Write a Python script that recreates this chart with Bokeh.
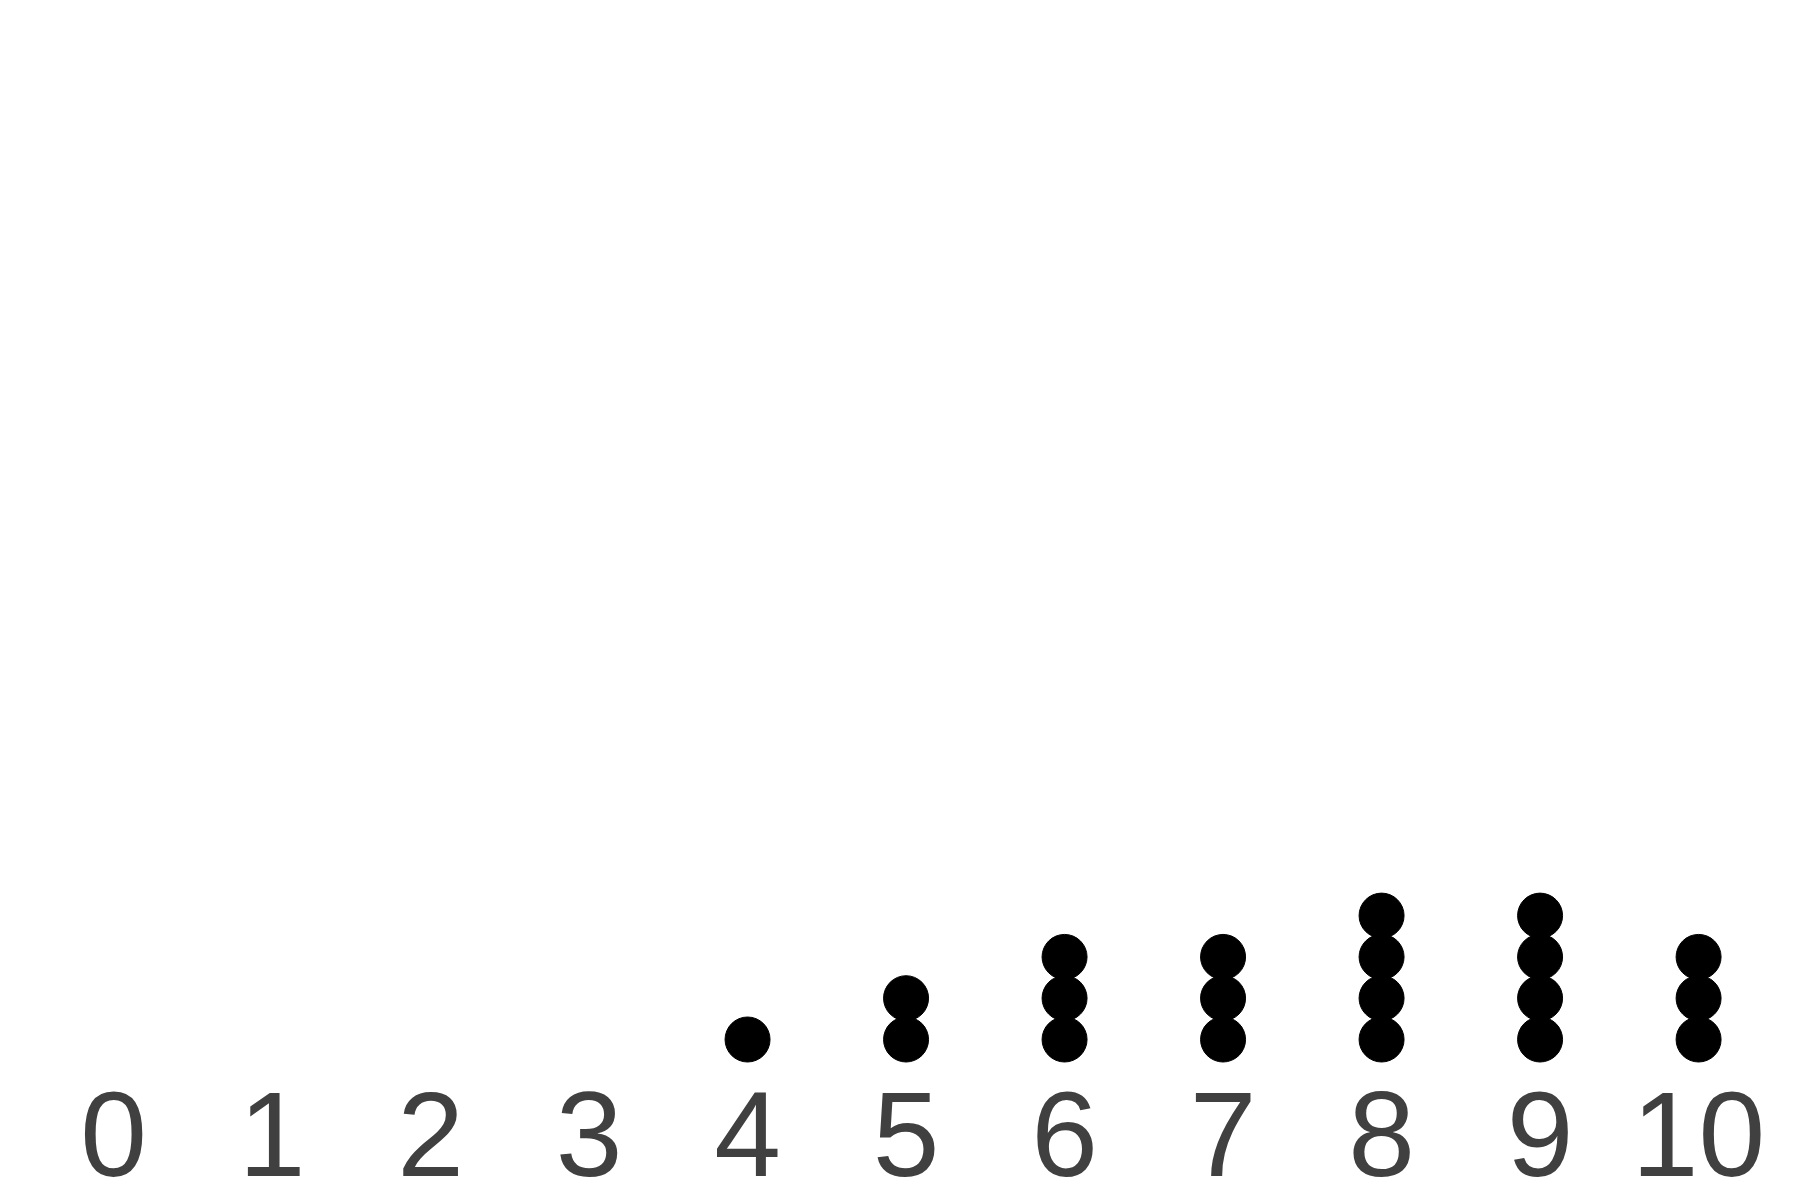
from bokeh.plotting import figure
from bokeh.models import FixedTicker, Range1d, ColumnDataSource
from bokeh.embed import file_html
from bokeh.resources import INLINE

# data: value on the x axis and how many observations fall at it
values = [0, 1, 2, 3, 4, 5, 6, 7, 8, 9, 10]
counts = [0, 0, 0, 0, 1, 2, 3, 3, 4, 4, 3]
tick_labels = [str(v) for v in values]

xs, ys = [], []
for v, c in zip(values, counts):
    for k in range(1, c + 1):
        xs.append(v)
        ys.append(k)
src = ColumnDataSource(dict(x=xs, y=ys))

p = figure(width=1800, height=1200, output_backend="svg", toolbar_location=None,
           x_range=Range1d(-0.713, 10.643), y_range=Range1d(-0.017, 26.16),
           min_border_left=0, min_border_right=0, min_border_top=0, min_border_bottom=119)
p.scatter("x", "y", source=src, size=45, color="black")

p.xgrid.visible = False
p.ygrid.visible = False
p.yaxis.visible = False
p.outline_line_color = None
p.xaxis.ticker = FixedTicker(ticks=values)
p.xaxis.major_label_overrides = {v: t for v, t in zip(values, tick_labels)}
p.xaxis.axis_line_color = None
p.xaxis.major_tick_line_color = None
p.xaxis.minor_tick_line_color = None
p.xaxis.major_label_text_font = "Arial"
p.xaxis.major_label_text_font_size = "120px"
p.xaxis.major_label_text_color = "#404040"

open("out.html", "w").write(file_html(p, INLINE))
